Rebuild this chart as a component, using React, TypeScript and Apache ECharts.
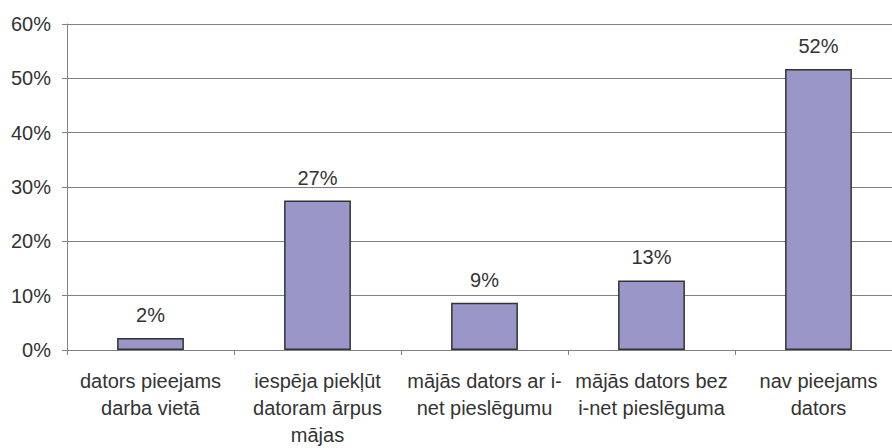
import React, { useEffect, useRef } from "react";
import * as echarts from "echarts";

const categories = [
  "dators pieejams\ndarba vietā",
  "iespēja piekļūt\ndatoram ārpus\nmājas",
  "mājās dators ar i-\nnet pieslēgumu",
  "mājās dators bez\ni-net pieslēguma",
  "nav pieejams\ndators",
];
const values = [2.2, 27.5, 8.7, 12.8, 51.7];
const valueLabels = ["2%", "27%", "9%", "13%", "52%"];
const yTicks = [0, 10, 20, 30, 40, 50, 60];

const FONT = "'Liberation Sans', Arial, sans-serif";
const TEXT = "#333333";
const GRID = "#808080";

export default function App() {
  const ref = useRef<HTMLDivElement>(null);
  useEffect(() => {
    if (!ref.current) return;
    const chart = echarts.init(ref.current, null, { renderer: "svg" });
    chart.setOption({
      animation: false,
      backgroundColor: "#ffffff",
      grid: { left: 67, top: 24, bottom: 96, right: 0, containLabel: false },
      xAxis: {
        type: "category",
        data: categories,
        boundaryGap: true,
        axisLine: { show: true, lineStyle: { color: GRID, width: 1 } },
        axisTick: { show: true, length: 5, lineStyle: { color: GRID } },
        axisLabel: {
          interval: 0,
          margin: 17,
          color: TEXT,
          fontFamily: FONT,
          fontSize: 20,
          lineHeight: 27,
        },
      },
      yAxis: {
        type: "value",
        min: yTicks[0],
        max: yTicks[yTicks.length - 1],
        interval: 10,
        axisLine: { show: true, lineStyle: { color: GRID, width: 1 } },
        axisTick: { show: true, length: 5, lineStyle: { color: GRID } },
        splitLine: { show: true, lineStyle: { color: GRID, width: 1 } },
        axisLabel: {
          margin: 16,
          color: TEXT,
          fontFamily: FONT,
          fontSize: 20,
          formatter: (v: number) => `${v}%`,
        },
      },
      series: [
        {
          type: "bar",
          data: values,
          barWidth: "40%",
          itemStyle: { color: "#9b96c8", borderColor: "#333333", borderWidth: 1.5 },
          label: {
            show: true,
            position: "top",
            distance: 13,
            color: TEXT,
            fontFamily: FONT,
            fontSize: 20,
            formatter: (p: any) => valueLabels[p.dataIndex],
          },
        },
      ],
    });
    return () => chart.dispose();
  }, []);
  return (
    <div style={{ position: "absolute", left: 0, top: 0, width: 892, height: 448, overflow: "hidden", background: "#fff" }}>
      <div ref={ref} style={{ width: 902, height: 448 }} />
    </div>
  );
}
